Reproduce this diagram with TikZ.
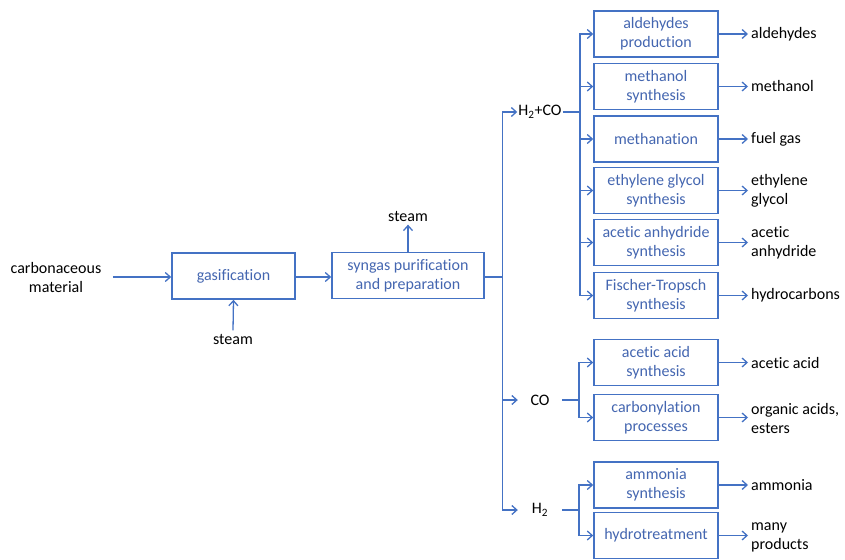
\documentclass[tikz,border=0pt]{standalone}
\usepackage{fontspec}
\setmainfont[Ligatures={NoCommon}]{Carlito}
\usetikzlibrary{arrows.meta}
\definecolor{lineblue}{HTML}{4472C4}
\definecolor{boxblue}{HTML}{4466B0}
\begin{document}
\begin{tikzpicture}[x=1pt, y=-1pt,
    font=\fontsize{16}{19}\selectfont,
    procBox/.style={draw=lineblue, line width=1.6pt, minimum width=124, minimum height=46, align=center, text=boxblue, inner sep=1pt},
    gasLabel/.style={minimum width=44, inner sep=1pt},
    outLabel/.style={anchor=west, align=left, inner xsep=3, inner ysep=1},
    flow/.style={draw=lineblue, line width=1.3pt},
    arr/.style={flow, -{Straight Barb[length=5pt, width=9pt, line width=1.3pt]}}]
    \useasboundingbox (0,0) rectangle (845,559);

    % feed side
    \node[align=center](feed) at (56,278) {carbonaceous\\material};
    \node[procBox, minimum width=123](gasif) at (233.5,276) {gasification};
    \node(steamIn) at (233,339) {steam};
    \node[procBox, minimum width=152](syngas) at (408,275.5) {syngas purification\\and preparation};
    \node(steamOut) at (408,216) {steam};
    \coordinate(split) at (502.5,277);

    \draw[arr] (feed.east) ++(8,-1) coordinate(feedEnd) -- (gasif.west |- feedEnd);
    \draw[arr] (steamIn.north) -- (gasif.south);
    \draw[arr] (gasif.east |- feedEnd) -- (syngas.west |- feedEnd);
    \draw[arr] (syngas.north) -- (steamOut.south);
    \draw[flow] (syngas.east |- split) -- (split);

    % gas streams
    \node[gasLabel](h2co) at (540,112) {H\textsubscript{2}+CO};
    \node[gasLabel](co) at (540,400) {CO};
    \node[gasLabel](h2) at (540,510) {H\textsubscript{2}};
    \draw[arr] (split) |- (h2co);
    \draw[arr] (split) |- (co);
    \draw[arr] (split) |- (h2);
    \coordinate(b1) at (580,112);
    \coordinate(b2) at (579,400);
    \coordinate(b3) at (579,510);
    \draw[flow] (h2co) -- (b1);
    \draw[flow] (co) -- (b2);
    \draw[flow] (h2) -- (b3);

    % processes
    \node[procBox](ald) at (656,34) {aldehydes\\production};
    \node[procBox](meoh) at (656,86.5) {methanol\\synthesis};
    \node[procBox](meth) at (656,139) {methanation};
    \node[procBox](eg) at (656,190.5) {ethylene glycol\\synthesis};
    \node[procBox](aa) at (656,242.5) {acetic anhydride\\synthesis};
    \node[procBox](ft) at (656,295.5) {Fischer-Tropsch\\synthesis};
    \node[procBox](acac) at (656,362.5) {acetic acid\\synthesis};
    \node[procBox](carb) at (656,417.5) {carbonylation\\processes};
    \node[procBox](nh3) at (656,485) {ammonia\\synthesis};
    \node[procBox](hydro) at (656,535.5) {hydrotreatment};

    \draw[arr] (b1) |- (ald);
    \draw[arr] (b1) |- (meoh);
    \draw[arr] (b1) |- (meth);
    \draw[arr] (b1) |- (eg);
    \draw[arr] (b1) |- (aa);
    \draw[arr] (b1) |- (ft);
    \draw[arr] (b2) |- (acac);
    \draw[arr] (b2) |- (carb);
    \draw[arr] (b3) |- (nh3);
    \draw[arr] (b3) |- (hydro);

    % products
    \node[outLabel](pAld) at (748,34) {aldehydes};
    \node[outLabel](pMeoh) at (748,86.5) {methanol};
    \node[outLabel](pMeth) at (748,139) {fuel gas};
    \node[outLabel](pEg) at (748,190.5) {ethylene\\glycol};
    \node[outLabel](pAa) at (748,242.5) {acetic\\anhydride};
    \node[outLabel](pFt) at (748,295.5) {hydrocarbons};
    \node[outLabel](pAcac) at (748,362.5) {acetic acid};
    \node[outLabel](pCarb) at (748,418.5) {organic acids,\\esters};
    \node[outLabel](pNh3) at (748,485) {ammonia};
    \node[outLabel](pHydro) at (748,537) {many\\products};

    \draw[arr] (ald) -- (pAld);
    \draw[arr] (meoh) -- (pMeoh);
    \draw[arr] (meth) -- (pMeth);
    \draw[arr] (eg) -- (pEg);
    \draw[arr] (aa) -- (pAa);
    \draw[arr] (ft) -- (pFt);
    \draw[arr] (acac) -- (pAcac);
    \draw[arr] (carb.east) -- (pCarb.west |- carb.east);
    \draw[arr] (nh3) -- (pNh3);
    \draw[arr] (hydro.east) -- (pHydro.west |- hydro.east);
\end{tikzpicture}
\end{document}
